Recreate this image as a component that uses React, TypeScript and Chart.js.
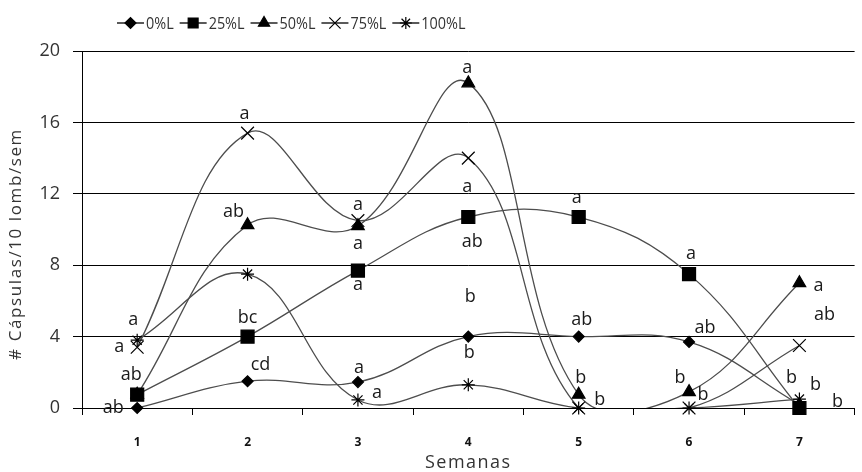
import React, { useEffect, useRef } from "react";
import { Chart, registerables } from "chart.js";
import { drawPoint } from "chart.js/helpers";

Chart.register(...registerables);

// ---- data ----
const weeks = ["1", "2", "3", "4", "5", "6", "7"];
const seriesNames = ["0%L", "25%L", "50%L", "75%L", "100%L"];
const l0 = [0, 1.5, 1.45, 4.0, 4.0, 3.7, 0.2];
const l25 = [0.75, 4.0, 7.7, 10.7, 10.7, 7.5, 0];
const l50 = [0.75, 10.25, 10.2, 18.2, 0.75, 0.9, 7.0];
const l75 = [3.4, 15.4, 10.5, 14.0, 0, 0, 3.5];
const l100 = [3.8, 7.5, 0.45, 1.3, 0, 0, 0.5];
const seriesValues = [l0, l25, l50, l75, l100];
const yTicks = [0, 4, 8, 12, 16, 20];
const xTitle = "Semanas";
const yTitle = "# Cápsulas/10 lomb/sem";

// significance letters: text, week index, value (y position in data units)
const labelTexts = ["a", "a", "ab", "ab", "a", "ab", "bc", "cd", "a", "a", "a", "a", "a", "a", "a", "ab", "b", "b", "a", "ab", "b", "b", "a", "ab", "b", "b", "a", "ab", "b", "b", "b"];
const labelWeeks = [0, 0, 0, 0, 1, 1, 1, 1, 2, 2, 2, 2, 2, 3, 3, 3, 3, 3, 4, 4, 4, 4, 5, 5, 5, 5, 6, 6, 6, 6, 6];
const labelValues = [4.93, 3.42, 1.85, 0, 16.47, 10.98, 5.04, 2.41, 11.37, 9.19, 6.89, 2.24, 0.84, 19.05, 12.38, 9.3, 6.22, 3.08, 11.76, 4.93, 1.68, 0.45, 8.63, 4.48, 1.68, 0.73, 6.83, 5.21, 1.66, 1.29, 0.35];
const labelShift = [-4, -18, -6, -24, -3, -14, 0, 13, 0, 0, 0, 1, 19, -1, -1, 4, 2, 1, -2, 3, 2, 21, 2, 16, -9, 14, 19, 25, -8, 16, 38];

// ---- styles ----
const FONT = "'Open Sans', sans-serif";
const pointStyles = ["rectRot", "rect", "triangle", "crossRot", "star"];
const pointRadii = [5.5, 9.2, 7.3, 9, 6.5];
const legendRadii = [5.5, 7, 6.5, 8, 6];
const lineColor = "#4d4d4d";

const legendPlugin = {
  id: "customLegend",
  afterDraw(chart: any) {
    const ctx = chart.ctx;
    let x = 117;
    const y = 23;
    const sx = 0.9;
    ctx.save();
    ctx.font = `16px ${FONT}`;
    ctx.textBaseline = "middle";
    ctx.textAlign = "left";
    seriesNames.forEach((name, i) => {
      ctx.strokeStyle = "#000";
      ctx.lineWidth = 1.3;
      ctx.beginPath();
      ctx.moveTo(x, y);
      ctx.lineTo(x + 27, y);
      ctx.stroke();
      ctx.fillStyle = "#000";
      ctx.strokeStyle = "#000";
      ctx.lineWidth = 1.2;
      drawPoint(ctx, { pointStyle: pointStyles[i], radius: legendRadii[i], borderWidth: 1.2, rotation: 0 } as any, x + 13.5, y);
      ctx.fillStyle = "#333";
      const tx = x + 29;
      ctx.save();
      ctx.translate(tx, y + 1);
      ctx.scale(sx, 1);
      ctx.fillText(name, 0, 0);
      ctx.restore();
      x = tx + ctx.measureText(name).width * sx + 6;
    });
    ctx.restore();
  },
};

const titlePlugin = {
  id: "axisTitles",
  afterDraw(chart: any) {
    const ctx = chart.ctx;
    const area = chart.chartArea;
    ctx.save();
    ctx.fillStyle = "#333";
    ctx.textAlign = "center";
    ctx.textBaseline = "middle";
    (ctx as any).letterSpacing = "1.5px";
    ctx.font = `18px ${FONT}`;
    ctx.fillText(xTitle, (area.left + area.right) / 2, 463);
    (ctx as any).letterSpacing = "1.6px";
    ctx.font = `17px ${FONT}`;
    ctx.translate(16, 244);
    ctx.rotate(-Math.PI / 2);
    ctx.fillText(yTitle, 0, 0);
    ctx.restore();
  },
};

const letterPlugin = {
  id: "letters",
  afterDatasetsDraw(chart: any) {
    const ctx = chart.ctx;
    const xs = chart.scales.x;
    const ys = chart.scales.y;
    ctx.save();
    ctx.font = `18px ${FONT}`;
    ctx.fillStyle = "#1a1a1a";
    ctx.textAlign = "center";
    ctx.textBaseline = "middle";
    labelTexts.forEach((t, i) => {
      const px = xs.getPixelForValue(labelWeeks[i]) + labelShift[i];
      const py = ys.getPixelForValue(labelValues[i]);
      ctx.fillText(t, px, py);
    });
    ctx.restore();
  },
};

export default function App() {
  const ref = useRef<HTMLCanvasElement>(null);
  useEffect(() => {
    if (!ref.current) return;
    Chart.defaults.font.family = FONT;
    const lineSets = seriesValues.map((vals, i) => ({
      label: seriesNames[i] + " line",
      data: vals,
      borderColor: lineColor,
      borderWidth: 1.3,
      tension: 0.4,
      capBezierPoints: false,
      pointRadius: 0,
      pointHoverRadius: 0,
      fill: false,
      clip: 0,
      order: 2,
    }));
    const markerSets = seriesValues.map((vals, i) => ({
      label: seriesNames[i],
      data: vals,
      showLine: false,
      pointStyle: pointStyles[i],
      pointRadius: pointRadii[i],
      pointHoverRadius: pointRadii[i],
      pointBackgroundColor: "#000",
      pointBorderColor: "#000",
      pointBorderWidth: 1.2,
      clip: false,
      order: 1,
    }));
    const chart = new Chart(ref.current, {
      type: "line",
      data: { labels: weeks, datasets: [...markerSets, ...lineSets] as any },
      options: {
        responsive: false,
        animation: false,
        layout: { padding: { top: 51, left: 0, right: 0, bottom: 0 } },
        plugins: { legend: { display: false }, tooltip: { enabled: false } },
        scales: {
          x: {
            type: "category",
            offset: true,
            grid: { offset: true, drawOnChartArea: false, drawTicks: true, tickLength: 7, color: "#000", lineWidth: 1 },
            border: { color: "#000", width: 1 },
            ticks: { font: { size: 12, weight: "bold" }, color: "#111", padding: 20, maxRotation: 0 },
            afterFit: (s: any) => {
              s.height = 64;
            },
          },
          y: {
            min: 0,
            max: 20,
            afterBuildTicks: (s: any) => {
              s.ticks = yTicks.map((v) => ({ value: v }));
            },
            grid: { color: "#000", lineWidth: 1, tickLength: 9, drawTicks: true },
            border: { color: "#000", width: 1 },
            ticks: { font: { size: 18 }, color: "#333", padding: 13 },
            afterFit: (s: any) => {
              s.width = 82;
            },
          },
        },
      } as any,
      plugins: [letterPlugin, legendPlugin, titlePlugin],
    });
    return () => chart.destroy();
  }, []);
  return (
    <div style={{ position: "absolute", left: 0, top: 0, width: 862, height: 472, overflow: "hidden", background: "#fff" }}>
      <canvas ref={ref} width={865} height={472} style={{ width: 865, height: 472, display: "block" }} />
    </div>
  );
}
